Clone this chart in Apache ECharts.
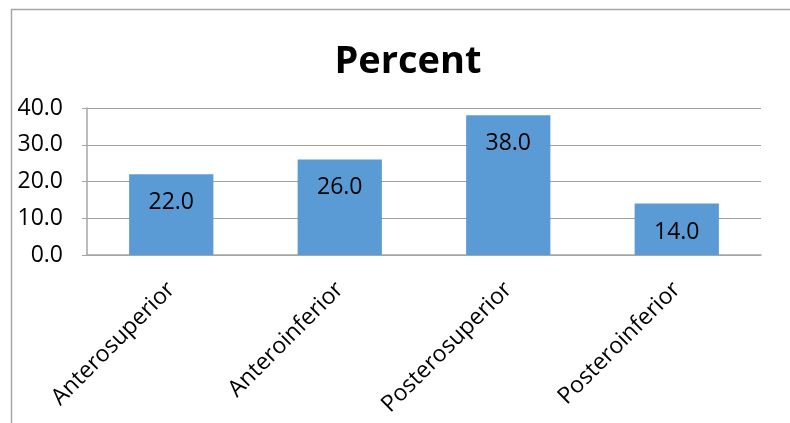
<!DOCTYPE html>
<html>
<head>
<meta charset="utf-8">
<script src="https://cdn.jsdelivr.net/npm/echarts@6/dist/echarts.min.js"></script>
<style>html,body{margin:0;padding:0;background:#fff}#c{width:790px;height:423px}</style>
</head>
<body>
<div id="c"></div>
<script>
const categories = ['Anterosuperior', 'Anteroinferior', 'Posterosuperior', 'Posteroinferior'];
const percentValues = [22.0, 26.0, 38.0, 14.0];
const yTicks = [0, 10, 20, 30, 40];

const chart = echarts.init(document.getElementById('c'), null, {renderer: 'canvas'});
const FONT = '"Open Sans", "Liberation Sans", sans-serif';
chart.setOption({
  animation: false,
  backgroundColor: '#fff',
  title: {
    text: 'Percent', left: 403, top: 38, textAlign: 'center',
    textStyle: {fontFamily: FONT, fontWeight: 'bold', fontSize: 38, color: '#000'}
  },
  graphic: [{
    type: 'rect', silent: true,
    shape: {x: 11.5, y: 9.5, width: 900, height: 500},
    style: {fill: 'none', stroke: '#A6A6A6', lineWidth: 1.5}
  }],
  grid: {left: 87, right: 29, top: 108, bottom: 168, containLabel: false},
  xAxis: {
    type: 'category', data: categories,
    axisLine: {lineStyle: {color: '#A6A6A6', width: 1.5}},
    axisTick: {show: false},
    axisLabel: {rotate: 45, fontFamily: FONT, fontSize: 23, color: '#000', margin: 31, interval: 0}
  },
  yAxis: {
    type: 'value', min: yTicks[0], max: yTicks[yTicks.length - 1], interval: 10,
    axisLine: {show: true, lineStyle: {color: '#A6A6A6', width: 1.5}},
    axisTick: {show: true, length: 5, lineStyle: {color: '#A6A6A6'}},
    splitLine: {lineStyle: {color: '#A0A0A0', width: 1}},
    axisLabel: {fontFamily: FONT, fontSize: 23, color: '#000', margin: 24,
      formatter: v => v.toFixed(1)}
  },
  series: [{
    type: 'bar', data: percentValues, barWidth: '50%',
    itemStyle: {color: '#5B9BD5'},
    label: {show: true, position: 'insideTop', distance: 17, fontFamily: FONT, fontSize: 23, color: '#000',
      formatter: p => p.value.toFixed(1)}
  }]
});
</script>
</body>
</html>
